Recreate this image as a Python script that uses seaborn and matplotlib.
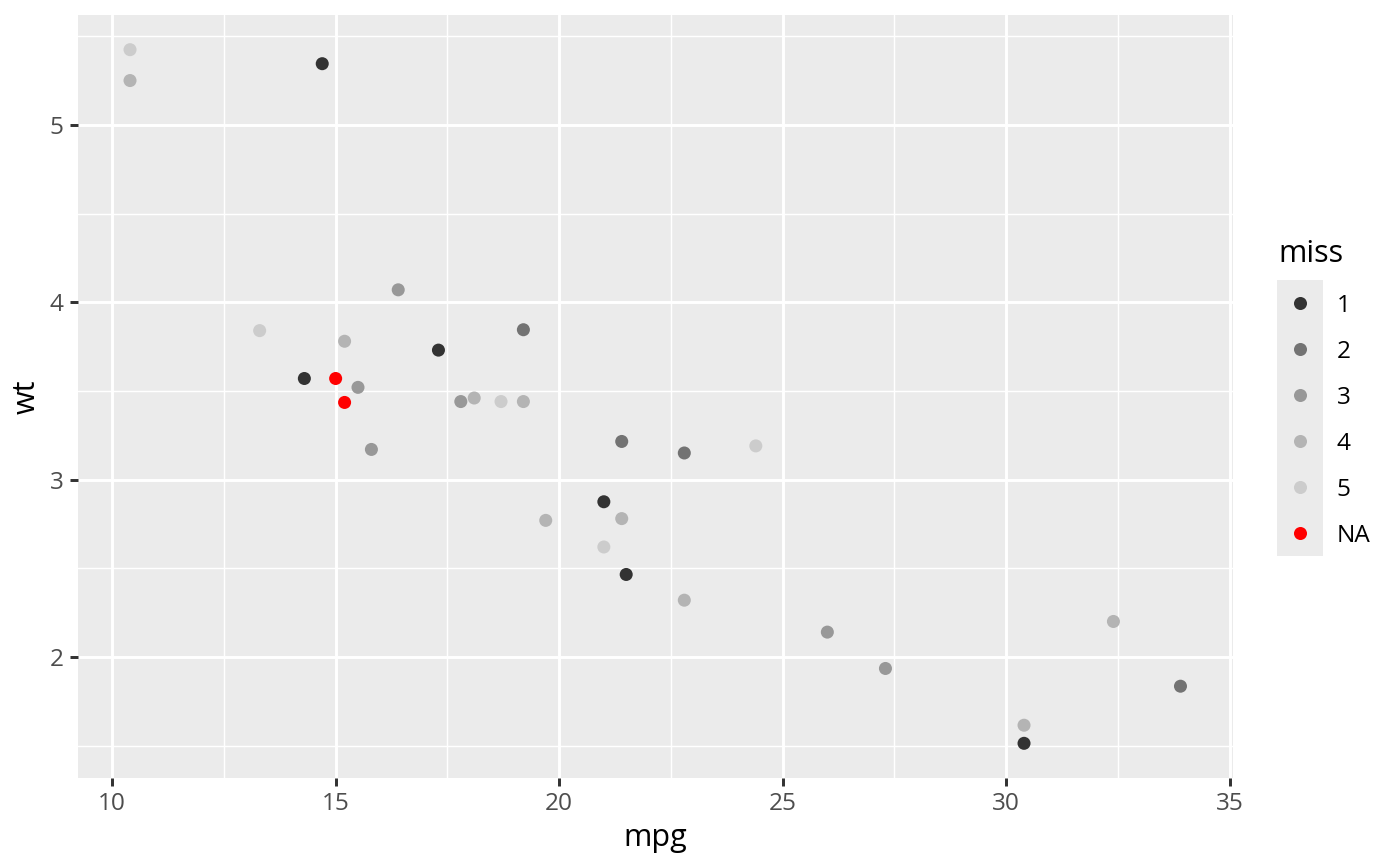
import matplotlib
matplotlib.use("Agg")
import matplotlib.pyplot as plt
import seaborn as sns
import pandas as pd
import numpy as np

mpg = [21.0, 21.0, 22.8, 21.4, 18.7, 18.1, 14.3, 24.4, 22.8, 19.2, 17.8, 16.4,
       17.3, 15.2, 10.4, 10.4, 14.7, 32.4, 30.4, 33.9, 21.5, 15.5, 15.2, 13.3,
       19.2, 27.3, 26.0, 30.4, 15.8, 19.7, 15.0, 21.4]
wt = [2.620, 2.875, 2.320, 3.215, 3.440, 3.460, 3.570, 3.190, 3.150, 3.440,
      3.440, 4.070, 3.730, 3.780, 5.250, 5.424, 5.345, 2.200, 1.615, 1.835,
      2.465, 3.520, 3.435, 3.840, 3.845, 1.935, 2.140, 1.513, 3.170, 2.770,
      3.570, 2.780]
miss = ["5", "1", "4", "2", "5", "4", "1", "5", "2", "4",
        "3", "3", "1", "4", "4", "5", "1", "4", "4", "2",
        "1", "3", "NA", "5", "2", "3", "3", "1", "3", "4",
        "NA", "4"]
levels = ["1", "2", "3", "4", "5", "NA"]
level_colors = ["#333333", "#737373", "#989898", "#B4B4B4", "#CCCCCC", "#FF0000"]
x_ticks = [10, 15, 20, 25, 30, 35]
y_ticks = [2, 3, 4, 5]

df = pd.DataFrame({"mpg": mpg, "wt": wt, "miss": miss})
palette = dict(zip(levels, level_colors))

sns.set_theme(style="white")
plt.rcParams["font.family"] = ["Open Sans", "DejaVu Sans"]

fig = plt.figure(figsize=(7, 4.33), dpi=200)
ax = fig.add_axes([77.5 / 1400, 1 - 778 / 866, (1233 - 77.5) / 1400, (778 - 15) / 866])
ax.set_facecolor("#EBEBEB")

sns.scatterplot(data=df, x="mpg", y="wt", hue="miss", hue_order=levels,
                palette=palette, s=22, linewidth=0, ax=ax, legend=False, zorder=3)

xr = max(mpg) - min(mpg)
yr = max(wt) - min(wt)
ax.set_xlim(min(mpg) - 0.05 * xr, max(mpg) + 0.05 * xr)
ax.set_ylim(min(wt) - 0.05 * yr, max(wt) + 0.05 * yr)
ax.set_xticks(x_ticks)
ax.set_yticks(y_ticks)
ax.set_xticks([12.5, 17.5, 22.5, 27.5, 32.5], minor=True)
ax.set_yticks([1.5, 2.5, 3.5, 4.5, 5.5], minor=True)
ax.grid(True, which="major", color="white", linewidth=1.07, zorder=0)
ax.grid(True, which="minor", color="white", linewidth=0.53, zorder=0)
ax.set_axisbelow(True)
for s in ax.spines.values():
    s.set_visible(False)
ax.tick_params(which="major", length=2.75, width=1.07, color="#333333",
               labelsize=8.8, labelcolor="#4D4D4D", pad=2.2, bottom=True, left=True)
ax.tick_params(which="minor", length=0)
ax.set_xlabel("mpg", fontsize=11, color="black", labelpad=2.75)
ax.set_ylabel("wt", fontsize=11, color="black", labelpad=2.75)

# legend
fig.text(1278 / 1400, 1 - 262 / 866, "miss", fontsize=11, color="black",
         ha="left", va="baseline")
lax = fig.add_axes([1277 / 1400, 1 - 556 / 866, 46 / 1400, 276 / 866])
lax.set_facecolor("#EBEBEB")
for s in lax.spines.values():
    s.set_visible(False)
lax.set_xticks([])
lax.set_yticks([])
lax.set_xlim(0, 1)
lax.set_ylim(len(levels) - 0.5, -0.5)
for i, (lv, c) in enumerate(zip(levels, level_colors)):
    lax.scatter([0.5], [i], s=22, color=c, linewidth=0)
    lax.text(1.3, i, lv, fontsize=8.8, color="black", ha="left",
             va="center_baseline", transform=lax.transData, clip_on=False)

fig.savefig("out.png", dpi=200)
